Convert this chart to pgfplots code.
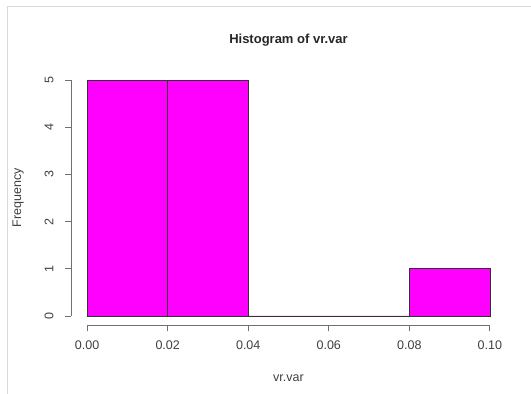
\documentclass[border=0pt]{standalone}
\usepackage{fontspec}
\setmainfont{Liberation Sans}
\usepackage{pgfplots}
\pgfplotsset{compat=1.18}
\definecolor{axgray}{HTML}{707070}
\definecolor{txtgray}{HTML}{404040}
\definecolor{rmag}{HTML}{FF00FF}
\begin{document}
\begin{tikzpicture}[x=1pt,y=1pt]
\path[use as bounding box, fill=white] (0,0) rectangle (531,394);
\draw[black!15, line width=1pt] (7,0) -- (7,387) -- (531,387);
\begin{axis}[at={(71pt,68.6pt)}, anchor=south west, scale only axis,
 width=435pt, height=254.8pt,
 xmin=-0.004, xmax=0.104, ymin=-0.2, ymax=5.2,
 axis x line*=bottom, axis y line*=left, axis line style={draw=none},
 tick align=outside, major tick length=6pt, tick style={axgray, line width=0.8pt},
 xtick={0,0.02,0.04,0.06,0.08,0.1}, ytick={0,1,2,3,4,5},
 xticklabels={0.00,0.02,0.04,0.06,0.08,0.10},
 yticklabel style={rotate=90, anchor=south, yshift=8pt},
 xticklabel style={yshift=-6pt},
 ticklabel style={font=\fontsize{12.5}{14}\selectfont, text=txtgray},
 /pgf/number format/assume math mode=true,
 clip=false]
\addplot[ybar interval, fill=rmag, draw=black!80, line width=0.6pt] coordinates {(0,5)(0.02,5)(0.04,0)(0.06,0)(0.08,1)(0.1,1)};
\draw[axgray, line width=0.8pt] (axis cs:0,-0.2) -- (axis cs:0.1,-0.2);
\draw[axgray, line width=0.8pt] (axis cs:-0.004,0) -- (axis cs:-0.004,5);
\end{axis}
\node[font=\bfseries\fontsize{13}{15}\selectfont, text=black!85] at (288.5,354) {Histogram of vr.var};
\node[font=\fontsize{12.5}{14}\selectfont, text=txtgray] at (288.5,16) {vr.var};
\node[rotate=90, font=\fontsize{12.5}{14}\selectfont, text=txtgray] at (18,196) {Frequency};
\end{tikzpicture}
\end{document}
